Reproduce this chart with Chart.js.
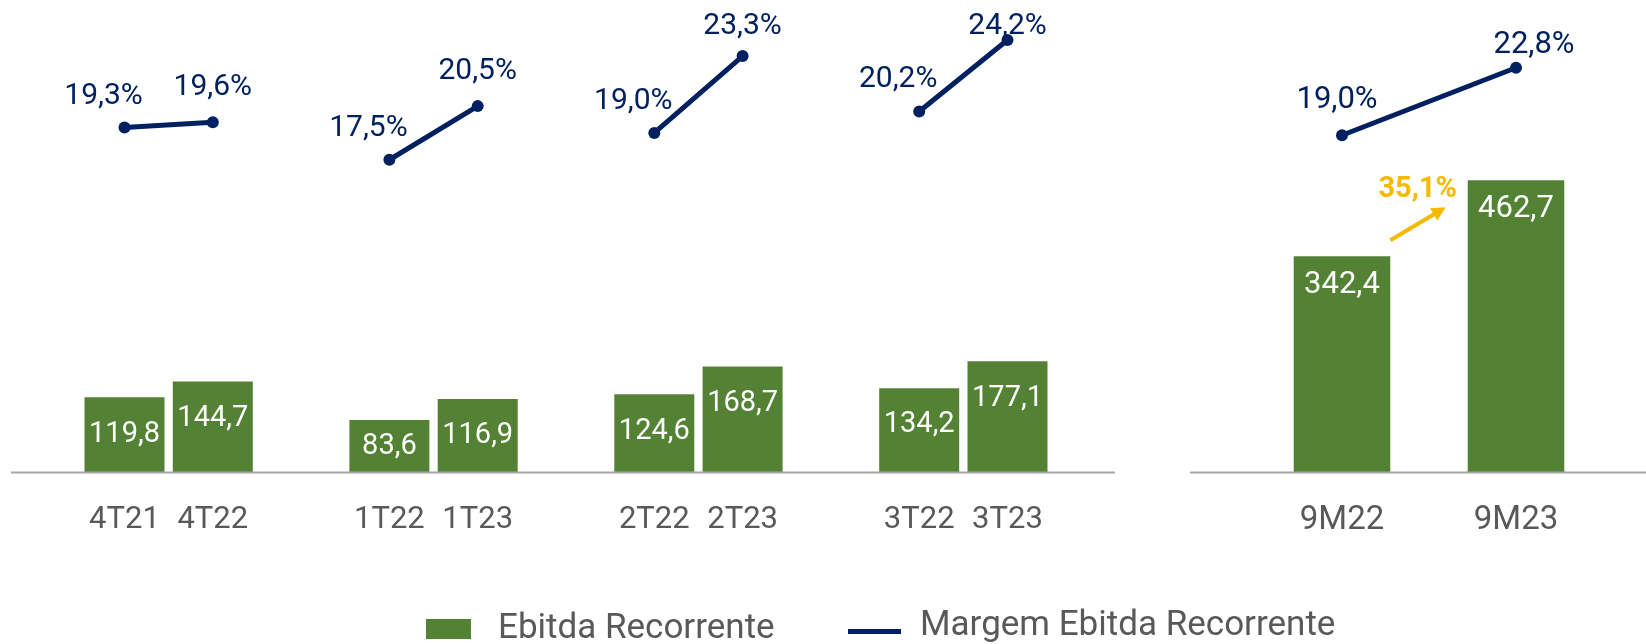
<!DOCTYPE html>
<html>
<head>
<meta charset="utf-8">
<script src="https://cdn.jsdelivr.net/npm/chart.js@4.4.0/dist/chart.umd.min.js"></script>
<style>
  html, body { margin:0; padding:0; background:#fff; width:1646px; height:644px; overflow:hidden; font-family:Roboto, sans-serif; }
  #left { position:absolute; left:11px; top:0; }
  #right { position:absolute; left:1190px; top:0; }
  .lg { position:absolute; color:#595959; font-family:Roboto, sans-serif; font-size:35px; line-height:35px; white-space:nowrap; }
  .sw { position:absolute; }
</style>
</head>
<body>
<canvas id="left" width="1104" height="644"></canvas>
<canvas id="right" width="456" height="644"></canvas>
<div id="legend">
  <div class="sw" id="swBar" style="left:426px;top:619px;width:45px;height:20px;"></div>
  <div class="lg" style="left:498px;top:609px;">Ebitda Recorrente</div>
  <div class="sw" id="swLine" style="left:848px;top:629px;width:53px;height:5px;"></div>
  <div class="lg" style="left:920px;top:606px;">Margem Ebitda Recorrente</div>
</div>
<script>
// ---- data ----
const quarterLabels = ['4T21', '4T22', '1T22', '1T23', '2T22', '2T23', '3T22', '3T23'];
const quarterEbitda = [119.8, 144.7, 83.6, 116.9, 124.6, 168.7, 134.2, 177.1];
const quarterMargin = [19.3, 19.6, 17.5, 20.5, 19.0, 23.3, 20.2, 24.2];
const ytdLabels = ['9M22', '9M23'];
const ytdEbitda = [342.4, 462.7];
const ytdMargin = [19.0, 22.8];

// ---- style ----
const GREEN = '#548235';
const NAVY = '#002060';
const GOLD = '#F5BA00';
const GRAY = '#595959';
const AXIS = '#A6A6A6';
const FONT = 'Roboto';

document.getElementById('swBar').style.background = GREEN;
document.getElementById('swLine').style.background = NAVY;

function withGaps(arr, gap) {
  const out = [];
  arr.forEach((v, i) => { if (i > 0 && i % 2 === 0) out.push(gap); out.push(v); });
  return out;
}
const fmt = v => v.toFixed(1).replace('.', ',');

const baselinePlugin = {
  id: 'baselineLine',
  afterDatasetsDraw(chart) {
    const ctx = chart.ctx;
    const y = chart.scales.y.getPixelForValue(0);
    ctx.save();
    ctx.strokeStyle = AXIS;
    ctx.lineWidth = 2;
    ctx.beginPath();
    ctx.moveTo(0, y);
    ctx.lineTo(chart.width, y);
    ctx.stroke();
    ctx.restore();
  }
};

function makeLabelPlugin(cfg) {
  return {
    id: 'valueLabels',
    afterDatasetsDraw(chart) {
      const ctx = chart.ctx;
      ctx.save();
      // bar values
      const barMeta = chart.getDatasetMeta(0);
      const barData = chart.data.datasets[0].data;
      ctx.fillStyle = '#FFFFFF';
      ctx.font = cfg.barFont + 'px ' + FONT;
      ctx.textAlign = 'center';
      ctx.textBaseline = 'alphabetic';
      barMeta.data.forEach((el, i) => {
        const v = barData[i];
        if (v == null) return;
        const mid = Math.min(el.y + cfg.barOffset, (el.y + el.base) / 2 - 3);
        ctx.fillText(fmt(v), el.x, mid + cfg.barFont * 0.711 / 2);
      });
      // margin labels
      const lineMeta = chart.getDatasetMeta(1);
      const lineData = chart.data.datasets[1].data;
      ctx.fillStyle = NAVY;
      ctx.font = cfg.pctFont + 'px ' + FONT;
      let k = 0;
      lineMeta.data.forEach((el, i) => {
        const v = lineData[i];
        if (v == null) return;
        const off = cfg.pctOffsets[k % 2];
        k++;
        const y = Math.max(el.y - off[1], cfg.pctMinY);
        ctx.fillText(fmt(v) + '%', el.x + off[0], y);
      });
      ctx.restore();
    }
  };
}

const growthPlugin = {
  id: 'growthArrow',
  afterDatasetsDraw(chart) {
    const m = chart.getDatasetMeta(0).data;
    const a = m[0], b = m[1];
    const pct = (ytdEbitda[1] / ytdEbitda[0] - 1) * 100;
    const x1 = a.x + a.width / 2, y1 = a.y - 16;
    const x2 = b.x - b.width / 2 - 22, y2 = b.y + 27;
    const ctx = chart.ctx;
    ctx.save();
    ctx.strokeStyle = GOLD;
    ctx.fillStyle = GOLD;
    ctx.lineWidth = 4;
    const ang = Math.atan2(y2 - y1, x2 - x1);
    const head = 14;
    ctx.beginPath();
    ctx.moveTo(x1, y1);
    ctx.lineTo(x2 - Math.cos(ang) * head * 0.8, y2 - Math.sin(ang) * head * 0.8);
    ctx.stroke();
    ctx.beginPath();
    ctx.moveTo(x2, y2);
    ctx.lineTo(x2 - head * Math.cos(ang) + 7 * Math.sin(ang), y2 - head * Math.sin(ang) - 7 * Math.cos(ang));
    ctx.lineTo(x2 - head * Math.cos(ang) - 7 * Math.sin(ang), y2 - head * Math.sin(ang) + 7 * Math.cos(ang));
    ctx.closePath();
    ctx.fill();
    ctx.font = 'bold 29px ' + FONT;
    ctx.textAlign = 'center';
    ctx.textBaseline = 'alphabetic';
    ctx.fillText(fmt(pct) + '%', x2 - 28, y2 - 10);
    ctx.restore();
  }
};

function buildChart(id, labels, bars, margins, opt) {
  return new Chart(document.getElementById(id), {
    type: 'bar',
    data: {
      labels: labels,
      datasets: [
        {
          type: 'bar', label: 'Ebitda Recorrente', data: bars,
          backgroundColor: GREEN, yAxisID: 'y',
          categoryPercentage: 1, barPercentage: opt.barPct, order: 2
        },
        {
          type: 'line', label: 'Margem Ebitda Recorrente', data: margins,
          borderColor: NAVY, backgroundColor: NAVY, borderWidth: 5,
          pointRadius: 6, pointBackgroundColor: NAVY, pointBorderWidth: 0,
          yAxisID: 'y1', spanGaps: false, tension: 0, order: 1
        }
      ]
    },
    options: {
      responsive: false,
      animation: false,
      events: [],
      layout: { padding: { left: opt.padL, right: opt.padR, top: 25.7, bottom: 0 } },
      plugins: { legend: { display: false }, tooltip: { enabled: false } },
      scales: {
        x: {
          grid: { display: false, drawTicks: false },
          border: { display: false },
          ticks: { color: GRAY, font: { family: FONT, size: opt.tickFont }, padding: opt.tickPad, maxRotation: 0, autoSkip: false },
          afterFit(s) { s.height = 644 - 472.5; }
        },
        y: { display: false, min: 0, max: opt.barMax },
        y1: { display: false, min: 0, max: opt.lineMax }
      }
    },
    plugins: [baselinePlugin, makeLabelPlugin(opt.labels)].concat(opt.extra || [])
  });
}

buildChart('left', withGaps(quarterLabels, ''), withGaps(quarterEbitda, null), withGaps(quarterMargin, null), {
  barPct: 0.906, padL: 69.35, padR: 63.35, barMax: 711, lineMax: 25, tickFont: 31, tickPad: 29,
  labels: { barFont: 29, barOffset: 34, pctFont: 30, pctOffsets: [[-21, 24], [0, 27]], pctMinY: 34 }
});

buildChart('right', ytdLabels, ytdEbitda, ytdMargin, {
  barPct: 0.555, padL: 65, padR: 43, barMax: 707.3, lineMax: 25.17, tickFont: 33, tickPad: 28,
  labels: { barFont: 31, barOffset: 26, pctFont: 31, pctOffsets: [[-5, 27], [18, 15]], pctMinY: 34 },
  extra: [growthPlugin]
});
</script>
</body>
</html>
